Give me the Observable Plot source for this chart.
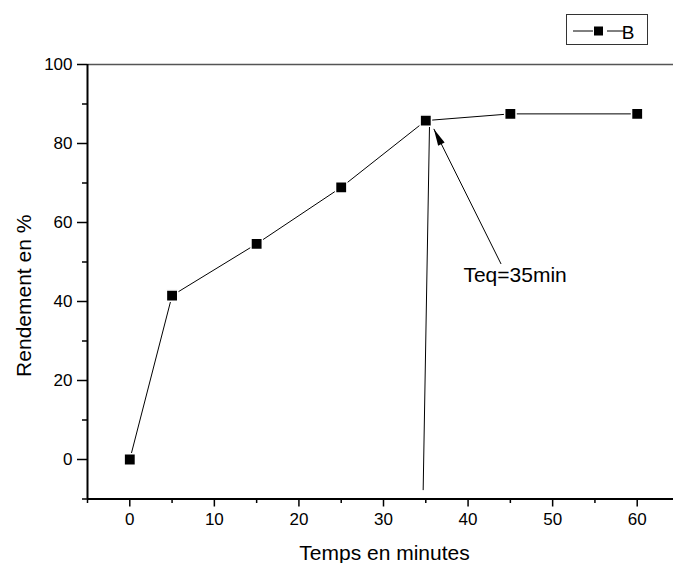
<!DOCTYPE html>
<html>
<head>
<meta charset="utf-8">
<script src="https://cdn.jsdelivr.net/npm/d3@7"></script>
<script src="https://cdn.jsdelivr.net/npm/@observablehq/plot@0.6"></script>
<style>
  body { margin: 0; background: #fff; }
  #chart svg { display: block; }
</style>
</head>
<body>
<div id="chart"></div>
<script>
// Reaction yield over time (series B)
const times = [0, 5, 15, 25, 35, 45, 60];
const yields = [0, 41.5, 54.6, 68.9, 85.8, 87.5, 87.5];
const seriesName = "B";

const xMajorTicks = [0, 10, 20, 30, 40, 50, 60];
const xMinorTicks = [-5, 5, 15, 25, 35, 45, 55, 65];
const yMajorTicks = [0, 20, 40, 60, 80, 100];
const yMinorTicks = [-10, 10, 30, 50, 70, 90];

const xTitle = "Temps en minutes";
const yTitle = "Rendement en %";

// Equilibrium-time annotation (data coordinates)
const noteText = "Teq=35min";
const noteAt = [{x: 39.45, y: 44.85}];
const arrowLink = [{x1: 43.9, y1: 49.5, x2: 35.95, y2: 83.7}];
const guideLink = [{x1: 34.69, y1: -7.75, x2: 35.44, y2: 84.5}];

const FONT = "Arial, 'Liberation Sans', Helvetica, sans-serif";
const W = 673, H = 563;

const xScale = {type: "linear", domain: [-5, 65], range: [87, 679]};
const yScale = {type: "linear", domain: [-10, 100], range: [498.5, 64]};

const points = times.map((t, i) => ({t, v: yields[i]}));

// Filled, narrow arrowhead with its tip at the origin, pointing up (-y)
const headSymbol = {
  draw(ctx) {
    ctx.moveTo(0, 0);
    ctx.lineTo(3.6, 17);
    ctx.lineTo(-3.6, 17);
    ctx.closePath();
  }
};
// orient the head along the arrow, in screen space
const sx = Plot.scale({x: xScale});
const sy = Plot.scale({y: yScale});
const a = arrowLink[0];
const ux = sx.apply(a.x1) - sx.apply(a.x2);
const uy = sy.apply(a.y1) - sy.apply(a.y2);
const headAngle = Math.atan2(-ux, uy) * 180 / Math.PI;

const chart = Plot.plot({
  width: W,
  height: H,
  marginLeft: 87,
  marginRight: 0,
  marginTop: 64,
  marginBottom: 64.5,
  x: xScale,
  y: yScale,
  style: {fontFamily: FONT, fontSize: "17px", color: "#000", background: "#fff"},
  marks: [
    // top border of the frame
    Plot.ruleY([100], {stroke: "#555", strokeWidth: 1.5}),
    // axis lines
    Plot.ruleX([-5], {stroke: "#000", strokeWidth: 2}),
    Plot.ruleY([-10], {stroke: "#000", strokeWidth: 2}),
    // ticks and labels
    Plot.axisX({ticks: xMajorTicks, tickSize: 8, tickPadding: 6, strokeWidth: 1.5, label: null, fontSize: 17}),
    Plot.axisX({ticks: xMinorTicks, tickSize: 4.5, strokeWidth: 1.5, fill: "none", label: null}),
    Plot.axisY({ticks: yMajorTicks, tickSize: 10, tickPadding: 5, strokeWidth: 1.5, label: null, fontSize: 17}),
    Plot.axisY({ticks: yMinorTicks, tickSize: 5, strokeWidth: 1.5, fill: "none", label: null}),
    // axis titles
    Plot.text([xTitle], {text: d => d, frameAnchor: "bottom", textAnchor: "middle", dx: 4, dy: 61, lineAnchor: "bottom", fontSize: 21}),
    Plot.text([yTitle], {text: d => d, frameAnchor: "left", textAnchor: "middle", rotate: -90, dx: -57, dy: 14, lineAnchor: "bottom", fontSize: 21}),
    // annotation
    Plot.link(guideLink, {x1: "x1", y1: "y1", x2: "x2", y2: "y2", stroke: "#000", strokeWidth: 1}),
    Plot.link(arrowLink, {x1: "x1", y1: "y1", x2: "x2", y2: "y2", stroke: "#000", strokeWidth: 1}),
    Plot.dot(arrowLink, {x: "x2", y: "y2", symbol: headSymbol, r: 1, rotate: headAngle, fill: "#000", stroke: "none"}),
    Plot.text(noteAt, {x: "x", y: "y", text: () => noteText, textAnchor: "start", lineAnchor: "bottom", fontSize: 21}),
    // series
    Plot.line(points, {x: "t", y: "v", stroke: "#000", strokeWidth: 1}),
    Plot.dot(points, {x: "t", y: "v", symbol: "square", r: 6.4, fill: "#000", stroke: "#fff", strokeWidth: 1.5})
  ]
});

document.getElementById("chart").appendChild(chart);

// legend box in the top-right corner
const svg = d3.select(chart);
const lg = svg.append("g").attr("transform", "translate(566,14)");
lg.append("rect")
  .attr("x", 0.5).attr("y", 0.5).attr("width", 81).attr("height", 30)
  .attr("fill", "#fff").attr("stroke", "#333").attr("stroke-width", 1);
lg.append("line").attr("x1", 7).attr("x2", 27).attr("y1", 17).attr("y2", 17)
  .attr("stroke", "#000").attr("stroke-width", 1);
lg.append("line").attr("x1", 41).attr("x2", 59).attr("y1", 17).attr("y2", 17)
  .attr("stroke", "#000").attr("stroke-width", 1);
lg.append("rect").attr("x", 28).attr("y", 12.5).attr("width", 9).attr("height", 9).attr("fill", "#000");
lg.append("text").attr("x", 62).attr("y", 24.5)
  .style("font-family", FONT).style("font-size", "19px").attr("fill", "#000")
  .text(seriesName);
</script>
</body>
</html>
